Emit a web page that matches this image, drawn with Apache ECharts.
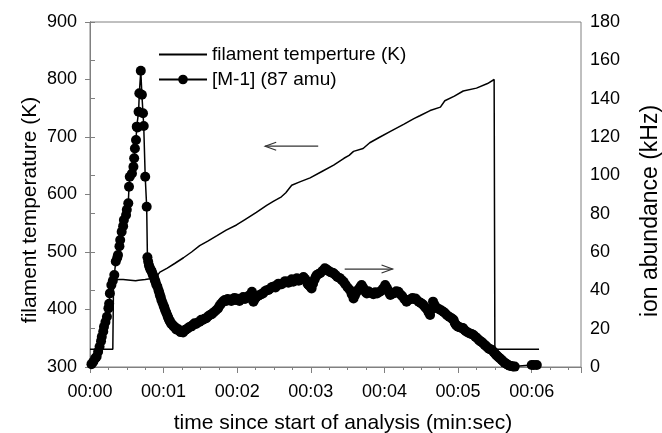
<!DOCTYPE html>
<html><head><meta charset="utf-8">
<script src="https://cdn.jsdelivr.net/npm/echarts@6/dist/echarts.min.js"></script>
<style>html,body{margin:0;padding:0;background:#fff}#c{width:662px;height:433px}</style>
</head><body><div id="c"></div>
<script>
// x tick labels (min:sec)
const xTickLabels = ['00:00','00:01','00:02','00:03','00:04','00:05','00:06'];

// filament temperature (K) vs time
const tempTime = [0,0.31,0.32,0.45,0.55,0.62,0.64,0.66,0.75,0.84,0.90,0.95,1.05,1.15,1.27,1.38,1.49,1.60,1.72,1.85,1.99,2.10,2.26,2.40,2.49,2.60,2.66,2.74,2.85,2.99,3.15,3.31,3.45,3.52,3.58,3.71,3.80,3.94,4.10,4.26,4.40,4.48,4.62,4.76,4.82,4.95,5.07,5.25,5.40,5.49,5.50,6.10];
const tempK    = [331,331,452,452,451,450,447,451,452,454,457,465,472,480,490,500,511,519,528,538,547,556,569,581,588,596,603,616,622,629,640,651,663,668,675,680,690,700,711,722,732,737,746,752,763,771,780,785,793,800,331,331];

// [M-1] (87 amu) ion abundance (kHz) vs time
const ionTime = [0.02,0.045,0.07,0.09,0.11,0.13,0.15,0.16,0.18,0.19,0.21,0.23,0.25,0.26,0.27,0.29,0.31,0.33,0.35,0.37,0.38,0.40,0.41,0.43,0.45,0.46,0.49,0.50,0.52,0.53,0.54,0.57,0.59,0.60,0.61,0.625,0.635,0.645,0.66,0.67,0.69,0.705,0.72,0.73,0.75,0.77,
0.78,0.79,0.80,0.81,0.82,0.83,0.84,0.85,0.86,0.87,0.88,0.89,0.90,0.915,0.93,0.94,0.95,0.96,0.97,0.985,1.00,1.01,1.02,1.035,1.05,1.06,1.07,1.08,1.09,1.105,1.12,1.135,1.15,1.165,1.18,1.195,1.21,1.23,1.25,1.265,1.28,1.30,1.32,1.34,1.36,1.38,1.40,1.42,1.44,1.465,1.49,1.51,1.53,1.555,1.58,1.605,1.63,1.655,1.68,1.71,1.74,1.76,1.78,1.805,1.83,1.85,1.87,1.895,1.92,1.94,1.96,1.975,1.99,2.01,2.03,2.055,2.08,2.105,2.13,2.15,2.17,2.185,2.20,2.21,2.22,2.24,2.26,2.28,2.30,2.325,2.35,2.375,2.40,2.425,2.45,2.475,2.50,2.52,2.54,2.56,2.58,2.605,2.63,2.65,2.67,2.695,2.72,2.74,2.76,2.785,2.81,2.835,2.86,2.88,2.90,2.92,2.94,2.955,2.97,2.99,3.01,3.03,3.05,3.065,3.08,3.105,3.13,3.16,3.19,3.21,3.23,3.25,3.27,3.29,3.31,3.335,3.36,3.39,3.42,3.445,3.47,3.50,3.53,3.555,3.58,3.60,3.62,3.64,3.66,3.675,3.69,3.71,3.73,3.745,3.76,3.78,3.80,3.825,3.85,3.875,3.90,3.925,3.95,3.98,4.01,4.03,4.05,4.065,4.08,4.105,4.13,4.16,4.19,4.215,4.24,4.27,4.30,4.33,4.36,4.38,4.40,4.42,4.44,4.465,4.49,4.51,4.53,4.555,4.58,4.60,4.62,4.64,4.66,4.68,4.70,4.725,4.75,4.775,4.80,4.825,4.85,4.88,4.91,4.925,4.94,4.955,4.97,4.985,5.00,5.02,5.04,5.055,5.07,5.09,5.11,5.135,5.16,5.185,5.21,5.235,5.26,5.28,5.30,5.32,5.34,5.36,5.38,5.40,5.42,5.44,5.46,5.48,5.50,5.52,5.54,5.555,5.57,5.59,5.61,5.63,5.65,5.665,5.68,5.70,5.72,5.745,5.77,6.00,6.03,6.07];
const ionKHz  = [1.5,2.8,4.5,5.4,8,10.6,13.5,15.8,18.5,21,23.5,26.2,30.6,33,38.4,42.8,45,48,55,57,58.4,63,66.3,70.6,73.5,76.7,79.3,82,85.4,94,99.3,101,104.5,108.9,114,118.4,125.4,125,133.2,142.8,154.6,142,132.4,125.7,99.3,83.6,
57.2,55,53.2,52,51,50.5,49.7,48.5,47.5,46.8,45.4,44.5,43,42,40.2,39,37.5,36.5,35,33.5,32,31,29.7,28.5,27,26,25,24.2,23.6,22.5,22,21.2,21,20,19.5,19.8,19,18.2,18.4,18,19,19.5,20,20.6,21,21.2,22,22.8,22.5,23.2,23.6,24.6,24.5,25.2,25.5,26.5,27.1,27.6,28.5,29.5,30.6,32,33,34.2,35,34.5,35.5,35,34.5,35.5,36,35,35.8,35.5,34.5,35.5,36.5,35.5,36,37,36.7,38,39.3,36,34,35.5,36.5,37,37.5,38,38.4,39.5,40,40.2,41,41.8,42,41.5,42.8,43.5,43,43.2,44,44.8,44.5,44,45,45.8,44.5,45.5,46.3,45,45.5,46.2,47,46,45,43.5,42.8,42,41,43.5,45.5,47,48,48.5,49,50.2,51.5,51,50.5,49.8,49.5,49.2,48.9,48,47,46.5,45.4,44.5,43,41.5,40.2,38,35.8,37.5,39,40.2,41,42,42.8,41.5,40,39,38.4,39.5,39,38.5,38,39,38.4,39,39.5,41,42.8,41.5,40,38.8,37.6,38.2,38.5,39.5,39.3,38,37,35.5,34.1,35,35.5,36,35.5,35.8,35,34,33.5,33,32.3,31,30,28.5,27.1,30,34.1,32.5,31,30.5,30,29.5,28.8,28,27,26.2,25.4,25,24.5,23,22,21.5,21,20.8,20.5,20.4,20.2,19.2,18.5,18,17.5,17.2,16.7,15.8,15,14.2,13.5,13,12.4,11.6,11,10.2,9.5,9.2,8.9,8,7,6.2,5.5,5,4.5,3.8,3,2.3,1.8,1.4,1,0.7,0.5,0.3,0.2,1,1,1];

// arrow annotations in data coordinates
const arrowLeftAxis  = {from:[3.10,684], to:[2.38,684]};   // points to left axis
const arrowRightAxis = {from:[3.46,51.1], to:[4.11,51.1]}; // points to right axis

const FONT = "'Liberation Sans', Arial, sans-serif";
const GRAY = '#808080';
const chart = echarts.init(document.getElementById('c'), null, {renderer:'canvas'});

const tempData = tempTime.map((t,i)=>[t,tempK[i]]);
const ionData = ionTime.map((t,i)=>[t,ionKHz[i]]);

chart.setOption({
  animation:false,
  backgroundColor:'#fff',
  textStyle:{fontFamily:FONT},
  grid:{left:90,right:81,top:22,bottom:66,show:true,borderColor:GRAY,borderWidth:1,backgroundColor:'transparent'},
  legend:{
    orient:'vertical', left:153, top:40, itemWidth:48, itemHeight:12, itemGap:6,
    textStyle:{fontSize:19,color:'#000',fontFamily:FONT},
    data:[{name:'filament temperture (K)',itemStyle:{opacity:0}},{name:'[M-1] (87 amu)'}]
  },
  xAxis:[
    {type:'value',min:0,max:6.67,interval:1,position:'bottom',
     axisLine:{show:true,lineStyle:{color:GRAY,width:1}},
     axisTick:{show:true,length:6,lineStyle:{color:GRAY}},
     axisLabel:{fontSize:18,color:'#000',margin:16,fontFamily:FONT,
       formatter:v=>{const k=Math.round(v);return Math.abs(v-k)<1e-6&&xTickLabels[k]!==undefined?xTickLabels[k]:'';}},
     splitLine:{show:false}},
    {type:'value',min:0,max:6.67,interval:0.25,position:'bottom',
     axisLine:{show:false},
     axisTick:{show:true,length:3,lineStyle:{color:GRAY}},
     axisLabel:{show:false},splitLine:{show:false}}
  ],
  yAxis:[
    {type:'value',min:300,max:900,interval:100,position:'left',
     axisLine:{show:true,lineStyle:{color:GRAY}},
     axisTick:{show:true,length:5,lineStyle:{color:GRAY}},
     axisLabel:{fontSize:18,color:'#000',margin:13,fontFamily:FONT},
     splitLine:{show:false}},
    {type:'value',min:0,max:180,interval:20,position:'right',
     axisLine:{show:true,lineStyle:{color:GRAY}},
     axisTick:{show:true,length:5,lineStyle:{color:GRAY}},
     axisLabel:{fontSize:18,color:'#000',margin:9,fontFamily:FONT},
     splitLine:{show:false}}
  ],
  series:[
    {name:'[M-1] (87 amu)',type:'line',xAxisIndex:0,yAxisIndex:1,data:ionData,
     symbol:'circle',symbolSize:10,showAllSymbol:true,
     itemStyle:{color:'#000'},lineStyle:{color:'#000',width:1.5},z:2},
    {name:'filament temperture (K)',type:'line',xAxisIndex:0,yAxisIndex:0,data:tempData,
     symbol:'none',itemStyle:{color:'#000'},lineStyle:{color:'#000',width:1.5},z:3}
  ]
});

function arrowGraphics(spec, yAxisIndex){
  const a = chart.convertToPixel({xAxisIndex:0,yAxisIndex:yAxisIndex}, spec.from);
  const b = chart.convertToPixel({xAxisIndex:0,yAxisIndex:yAxisIndex}, spec.to);
  const dir = Math.sign(b[0]-a[0]);
  const hx = b[0]-dir*11;
  return [
    {type:'polyline',shape:{points:[a,b]},style:{stroke:'#333',lineWidth:1.2,fill:null},silent:true,z:10},
    {type:'polyline',shape:{points:[[hx,b[1]-4],b,[hx,b[1]+4]]},style:{stroke:'#333',lineWidth:1.2,fill:null},silent:true,z:10}
  ];
}

const titleFont = '21px ' + FONT;
chart.setOption({graphic:[
  ...arrowGraphics(arrowLeftAxis,0),
  ...arrowGraphics(arrowRightAxis,1),
  {type:'text',x:30,y:210,rotation:Math.PI/2,style:{text:'filament temperature (K)',font:titleFont,fill:'#000',textAlign:'center',textVerticalAlign:'middle'},silent:true},
  {type:'text',x:651,y:211,rotation:Math.PI/2,style:{text:'ion abundance (kHz)',font:'23px ' + FONT,fill:'#000',textAlign:'center',textVerticalAlign:'middle'},silent:true},
  {type:'text',x:343,y:423,style:{text:'time since start of analysis (min:sec)',font:titleFont,fill:'#000',textAlign:'center',textVerticalAlign:'middle'},silent:true}
]});
</script></body></html>
